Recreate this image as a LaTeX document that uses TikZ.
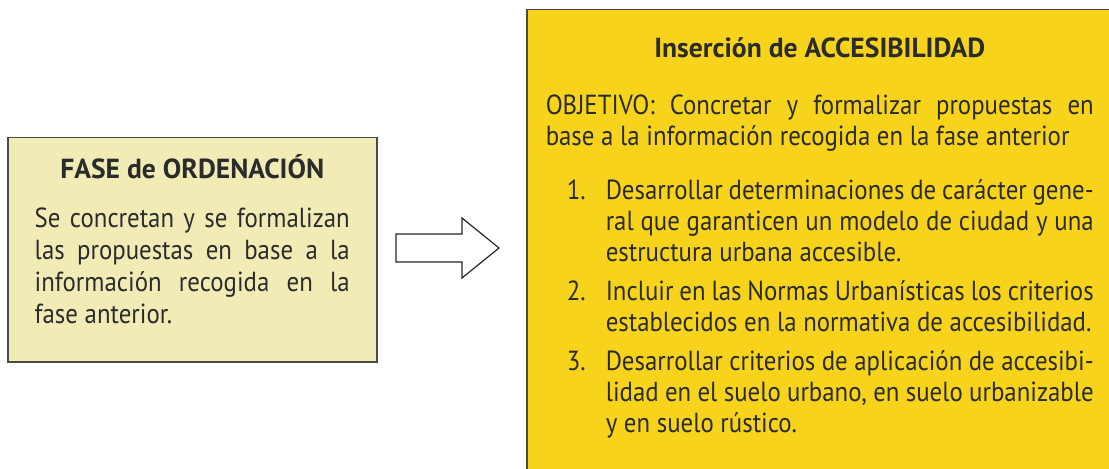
\documentclass[tikz,border=0pt]{standalone}
\usepackage{fontspec}
\setmainfont{PT Sans}[UprightFeatures={FakeStretch=0.9}]
\usepackage{enumitem}
\definecolor{palido}{HTML}{F1ECB5}
\definecolor{amarillo}{HTML}{F7D41B}
\definecolor{borde}{HTML}{4A4A4A}
\definecolor{texto}{HTML}{2B2B2B}
\tolerance=9999
\hyphenpenalty=10000

\begin{document}
\begin{tikzpicture}[x=0.5pt,y=-0.5pt,
  caja/.style={draw=borde,line width=0.75pt,align=justify,text=texto,anchor=north west},
  flecha/.style={draw=black!85,fill=white,line width=0.6pt,line join=miter}]
\useasboundingbox (0,0) rectangle (1109,469);
\clip (0,0) rectangle (1109,469);
\node[caja,fill=palido,text width=157.5pt,inner xsep=13.5pt,inner ysep=8.5pt,
  font=\fontsize{13.8pt}{16pt}\selectfont] (ordenacion) at (7,137) {%
  {\centering\bfseries FASE de ORDENACIÓN\par}\vspace{8.5pt}
  Se concretan y se formalizan\linebreak las propuestas en base a la\linebreak
  información recogida en la\linebreak fase anterior.\par\vspace*{10.5pt}};
\node[caja,fill=amarillo,text width=274pt,inner xsep=9.5pt,inner ysep=14pt,
  font=\fontsize{13.8pt}{15.5pt}\selectfont] (accesibilidad) at (526,9) {%
  {\centering\bfseries Inserción de ACCESIBILIDAD\par}\vspace{13pt}
  OBJETIVO: Concretar y formalizar propuestas en\linebreak
  base a la información recogida en la fase anterior
  \begin{enumerate}[leftmargin=30pt,labelsep=10pt,topsep=11.5pt,partopsep=0pt,itemsep=4pt,parsep=0pt]
  \item Desarrollar determinaciones de carácter gene-\linebreak ral que garanticen un modelo de ciudad y una\linebreak estructura urbana accesible.
  \item Incluir en las Normas Urbanísticas los criterios\linebreak establecidos en la normativa de accesibilidad.
  \item Desarrollar criterios de aplicación de accesibi-\linebreak lidad en el suelo urbano, en suelo urbanizable\linebreak y en suelo rústico.
  \end{enumerate}\vspace*{20pt}};
\coordinate (paso) at (396,248);
\draw[flecha] (paso) ++(0,-14) -- ++(66,0) -- ++(0,-16) -- ++(37,30)
  -- ++(-37,30) -- ++(0,-16) -- ++(-66,0) -- cycle;
\end{tikzpicture}
\end{document}
